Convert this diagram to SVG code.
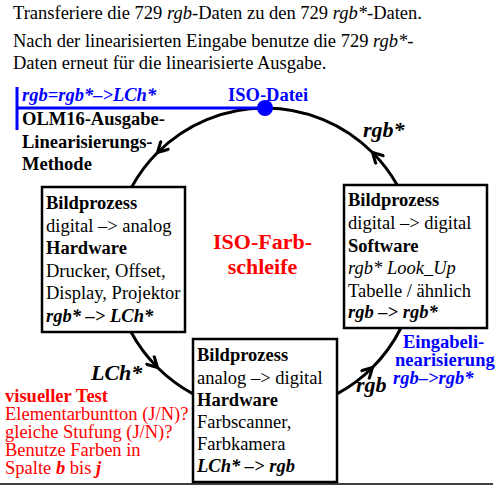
<svg xmlns="http://www.w3.org/2000/svg" width="496" height="487" viewBox="0 0 496 487">
<style>
text{font-family:"Liberation Serif","Times New Roman",serif;font-size:18.5px;fill:#000}
.b{font-weight:bold}
.i{font-style:italic}
.bi{font-weight:bold;font-style:italic}
.blue{fill:#0000ff}
.red{fill:#ff0000}
.big{font-size:22px}
.box{fill:#fff;stroke:#000;stroke-width:2.5}
.arc{fill:none;stroke:#000;stroke-width:3}
</style>
<defs>
<marker id="arr" markerUnits="userSpaceOnUse" markerWidth="14" markerHeight="14" viewBox="0 0 14 14" refX="12" refY="7" orient="auto">
<path d="M1,1 L12,7 L1,13" fill="none" stroke="#000" stroke-width="3"/>
</marker>
</defs>
<rect width="496" height="487" fill="#fff"/>

<g id="header">
<text x="13" y="19">Transferiere die 729 <tspan class="i">rgb</tspan>-Daten zu den 729 <tspan class="i">rgb*</tspan>-Daten.</text>
<text x="13" y="47">Nach der linearisierten Eingabe benutze die 729 <tspan class="i">rgb*</tspan>-</text>
<text x="13" y="69">Daten erneut für die linearisierte Ausgabe.</text>
</g>

<g id="connectors">
<path class="arc" d="M265,108 A152,152 0 0 0 157.5,152.5" marker-end="url(#arr)"/>
<path class="arc" d="M157.5,152.5 A152,152 0 0 0 131.7,187"/>
<path class="arc" d="M131,332 A152,152 0 0 0 157.5,367.5" marker-end="url(#arr)"/>
<path class="arc" d="M157.5,367.5 A152,152 0 0 0 193,393.9"/>
<path class="arc" d="M337,393.9 A152,152 0 0 0 372.5,367.5" marker-end="url(#arr)"/>
<path class="arc" d="M372.5,367.5 A152,152 0 0 0 400.9,328"/>
<path class="arc" d="M397.2,185 A152,152 0 0 0 372.5,152.5" marker-end="url(#arr)"/>
<path class="arc" d="M372.5,152.5 A152,152 0 0 0 265,108"/>
<text class="bi big" x="363" y="137">rgb*</text>
<text class="bi big" x="91" y="380">LCh*</text>
<text class="bi big" x="356" y="392">rgb</text>
</g>

<g id="iso-datei">
<line x1="17" y1="108" x2="265" y2="108" stroke="#0000ff" stroke-width="3"/>
<line x1="17" y1="87" x2="17" y2="130" stroke="#0000ff" stroke-width="3"/>
<circle cx="265" cy="108" r="8" fill="#0000ff"/>
<text class="bi blue" x="22" y="101">rgb=rgb*–&gt;LCh*</text>
<text class="b blue" x="228" y="101">ISO-Datei</text>
</g>

<g id="method">
<text class="b" x="22" y="125">OLM16-Ausgabe-</text>
<text class="b" x="22" y="148">Linearisierungs-</text>
<text class="b" x="22" y="170">Methode</text>
</g>

<g id="title">
<text class="b red big" x="262.5" y="249" text-anchor="middle">ISO-Farb-</text>
<text class="b red big" x="262.5" y="274" text-anchor="middle">schleife</text>
</g>

<g id="box-left">
<rect class="box" x="42" y="187" width="143" height="145"/>
<text class="b" x="46" y="209">Bildprozess</text>
<text x="46" y="231.5">digital –&gt; analog</text>
<text class="b" x="46" y="254">Hardware</text>
<text x="46" y="276.5">Drucker, Offset,</text>
<text x="46" y="299">Display, Projektor</text>
<text class="bi" x="46" y="321.5">rgb* –&gt; LCh*</text>
</g>

<g id="box-right">
<rect class="box" x="344" y="185" width="143" height="143"/>
<text class="b" x="348" y="206">Bildprozess</text>
<text x="348" y="229">digital –&gt; digital</text>
<text class="b" x="348" y="252">Software</text>
<text class="i" x="348" y="274">rgb* Look_Up</text>
<text x="348" y="297">Tabelle / ähnlich</text>
<text class="bi" x="348" y="318">rgb –&gt; rgb*</text>
</g>

<g id="box-bottom">
<rect class="box" x="193" y="339" width="144" height="143"/>
<text class="b" x="197" y="361">Bildprozess</text>
<text x="197" y="384">analog –&gt; digital</text>
<text class="b" x="197" y="406">Hardware</text>
<text x="197" y="428">Farbscanner,</text>
<text x="197" y="450">Farbkamera</text>
<text class="bi" x="197" y="472">LCh* –&gt; rgb</text>
</g>

<g id="input-linearisation">
<text class="b blue" x="403" y="348">Eingabeli-</text>
<text class="b blue" x="395" y="366">nearisierung</text>
<text class="bi blue" x="393" y="384">rgb–&gt;rgb*</text>
</g>

<g id="visual-test">
<text class="b red" x="5" y="402">visueller Test</text>
<text class="red" x="5" y="420">Elementarbuntton (J/N)?</text>
<text class="red" x="5" y="438">gleiche Stufung (J/N)?</text>
<text class="red" x="5" y="456">Benutze Farben in</text>
<text class="red" x="5" y="474">Spalte <tspan class="bi">b</tspan> bis <tspan class="bi">j</tspan></text>
</g>

<line x1="0" y1="484" x2="493" y2="484" stroke="#000" stroke-width="1.5"/>
</svg>
